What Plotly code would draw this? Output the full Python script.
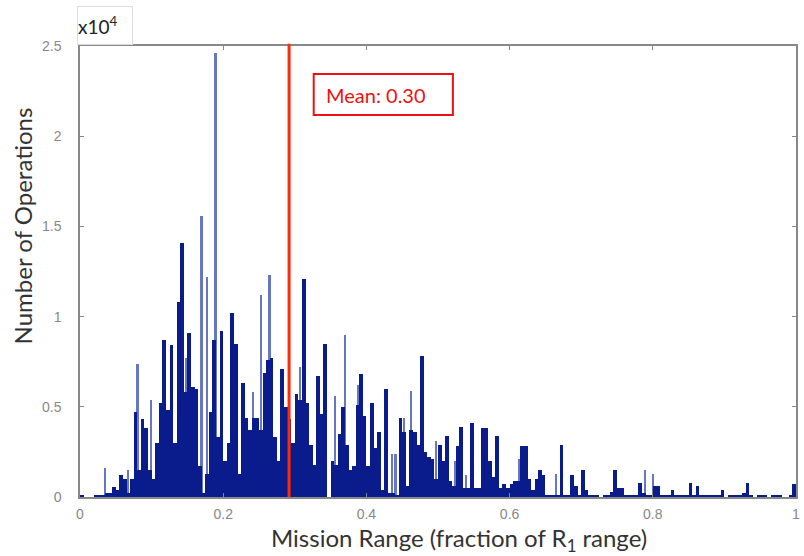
import plotly.graph_objects as go

# ---- data (values in units of 10^4 operations) ----
bin_start = 0.0
bin_width = 0.005
body_ops_e4 = [
    0.01, 0, 0, 0, 0.01, 0.01, 0.01, 0.02, 0.02, 0.055,
    0.04, 0.12, 0.1, 0.02, 0.1, 0.47, 0.15, 0.43, 0.38, 0.15,
    0.1, 0.3, 0.52, 0.87, 0.48, 0.84, 0.3, 1.08, 1.41, 0.58,
    0.91, 0.61, 0.6, 0.17, 0.02, 0.13, 0.47, 0.87, 0.33, 0.92,
    0.2, 0.3, 1.02, 0.85, 0.13, 0.63, 0.44, 0.37, 0.44, 0.44,
    0.37, 0.69, 0.76, 0.77, 0.33, 0.2, 0.71, 0.5, 0.43, 0.3,
    0.57, 0.54, 1.21, 0.52, 0.29, 0.18, 0.67, 0.46, 0.85, 0.0,
    0.2, 0.18, 0.35, 0.5, 0.29, 0.15, 0.17, 0.51, 0.68, 0.45,
    0.17, 0.52, 0.27, 0.36, 0.04, 0.6, 0.02, 0.02, 0.01, 0.44,
    0.36, 0.06, 0.37, 0.36, 0.29, 0.78, 0.25, 0.22, 0.21, 0.1,
    0.29, 0.2, 0.34, 0.09, 0.06, 0.28, 0.39, 0.05, 0.05, 0.41,
    0.05, 0.05, 0.38, 0.38, 0.2, 0.11, 0.34, 0.05, 0.07, 0.05,
    0.07, 0.09, 0.09, 0.28, 0.28, 0.1, 0.04, 0.1, 0.15, 0.12,
    0.01, 0.01, 0.01, 0.01, 0.29, 0.01, 0.01, 0.12, 0.06, 0.01,
    0.15, 0.04, 0.01, 0.01, 0.01, 0.0, 0.01, 0.01, 0.03, 0.15,
    0.05, 0.05, 0.01, 0.01, 0.01, 0.01, 0.08, 0.02, 0.01, 0.01,
    0.06, 0.06, 0.01, 0.01, 0.01, 0.04, 0.01, 0.01, 0.01, 0.01,
    0.08, 0.01, 0.06, 0.01, 0.01, 0.01, 0.01, 0.01, 0.01, 0.04,
    0.0, 0.01, 0.01, 0.01, 0.01, 0.02, 0.08, 0.01, 0.0, 0.01,
    0.01, 0.01, 0.0, 0.01, 0.01, 0.01, 0.0, 0.0, 0.01, 0.07,
]

# thin, isolated tall bins (drawn lighter, narrower)
spike_x = [0.035, 0.068, 0.0806, 0.099, 0.148, 0.170, 0.178, 0.1896, 0.228,
           0.242, 0.2535, 0.265, 0.307, 0.357, 0.3708, 0.389, 0.436, 0.441,
           0.4535, 0.4625, 0.4979, 0.524, 0.5389, 0.6132, 0.6646, 0.6715,
           0.7896, 0.80]
spike_ops_e4 = [0.16, 0.15, 0.74, 0.54, 0.77, 1.56, 1.22, 2.46, 0.63,
                0.58, 1.12, 1.23, 0.72, 0.56, 0.90, 0.62, 0.24, 0.24,
                0.44, 0.59, 0.31, 0.20, 0.12, 0.21, 0.13, 0.11,
                0.15, 0.13]

mean_range = 0.292
mean_label = "Mean: 0.30"

x_ticks = [0, 0.2, 0.4, 0.6, 0.8, 1.0]
x_ticktext = ["0", "0.2", "0.4", "0.6", "0.8", "1"]
y_ticks = [0, 0.5, 1.0, 1.5, 2.0, 2.5]
y_ticktext = ["0", "0.5", "1", "1.5", "2", "2.5"]

body_x = [bin_start + (i + 0.5) * bin_width for i in range(len(body_ops_e4))]

DARK = "#0a1c8c"
LIGHT = "#6877c4"
RED = "#ff2a0a"

fig = go.Figure()
fig.add_trace(go.Bar(x=spike_x, y=spike_ops_e4, width=0.0022,
                     marker=dict(color=LIGHT, line=dict(width=0)),
                     hoverinfo="skip", showlegend=False))
fig.add_trace(go.Bar(x=body_x, y=body_ops_e4, width=bin_width,
                     marker=dict(color=DARK, line=dict(width=0)),
                     hoverinfo="skip", showlegend=False))

# mean line
fig.add_shape(type="line", xref="x", yref="paper", x0=mean_range, x1=mean_range,
              y0=0, y1=1.005, line=dict(color=RED, width=3))

# mean label box
fig.add_shape(type="rect", xref="x", yref="y", x0=0.3264, x1=0.5208, y0=2.1175, y1=2.345,
              line=dict(color="#ee1111", width=2), fillcolor="white")
fig.add_annotation(xref="x", yref="y", x=0.341, y=2.231, xanchor="left", yanchor="middle",
                   text=mean_label, showarrow=False,
                   font=dict(family="Lato", size=20, color="#ee1111"))

# exponent box
fig.add_annotation(xref="paper", yref="paper", x=-0.004, y=1.003, xanchor="left", yanchor="bottom",
                   text="x10<sup>4</sup>", showarrow=False, width=54, height=37,
                   font=dict(family="Lato", size=19, color="#222"),
                   bordercolor="#dddddd", borderwidth=1, borderpad=0, bgcolor="white",
                   align="left")

# axis titles
fig.add_annotation(xref="paper", yref="paper", x=0.53, y=-0.095, xanchor="center", yanchor="middle",
                   text="Mission Range (fraction of R<sub>1</sub> range)", showarrow=False,
                   font=dict(family="Lato", size=24, color="#333"))
fig.add_annotation(xref="paper", yref="paper", x=-0.081, y=0.60, xanchor="center", yanchor="middle",
                   text="Number of Operations", showarrow=False, textangle=-90,
                   font=dict(family="Lato", size=24, color="#333"))

fig.update_layout(
    width=804, height=556,
    margin=dict(l=80, r=4, t=46, b=59),
    paper_bgcolor="white", plot_bgcolor="white",
    barmode="overlay", bargap=0,
    font=dict(family="Liberation Sans", size=13, color="#777"),
)
fig.update_xaxes(range=[0, 1], tickvals=x_ticks, ticktext=x_ticktext,
                 ticks="inside", ticklen=4, tickcolor="#888",
                 showline=True, linecolor="#888", linewidth=1.5, mirror="ticks",
                 showgrid=False, zeroline=False, ticklabelstandoff=3,
                 tickfont=dict(family="Liberation Sans", size=14, color="#888"))
fig.update_yaxes(range=[0, 2.5], tickvals=y_ticks, ticktext=y_ticktext,
                 ticks="inside", ticklen=4, tickcolor="#888",
                 showline=True, linecolor="#888", linewidth=1.5, mirror="ticks",
                 showgrid=False, zeroline=False, ticklabelstandoff=14,
                 tickfont=dict(family="Liberation Sans", size=14, color="#888"))

fig.write_html("out.html")
